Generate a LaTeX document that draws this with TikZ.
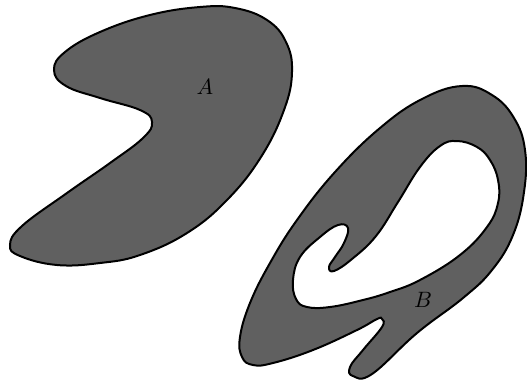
\documentclass[tikz,border=0pt]{standalone}
\begin{document}
\begin{tikzpicture}[x=0.45pt,y=-0.45pt,
  blob/.style={draw=black,fill=blobgray,line width=0.9pt,even odd rule},
  lbl/.style={font=\normalsize}]
\definecolor{blobgray}{RGB}{96,96,96}
\useasboundingbox (0,0) rectangle (527,381);
% Shape A
\path[blob] plot[smooth cycle,tension=0.7] coordinates {
 (54,70) (65,52) (100,32) (150,15) (200,7) (235,8) (267,20) (286,42) (292,72)
 (284,110) (261,157) (227,200) (187,233) (140,255) (100,263) (57,265) (20,256)
 (10,245) (22,226) (67,193) (110,163) (143,138) (152,122) (140,110) (100,98) (66,86)};
\node[lbl] (A) at (205,87) {$A$};
% Shape B with hole
\path[blob] plot[smooth cycle,tension=0.7] coordinates {
 (462,86) (492,95) (514,118) (525,150) (524,192) (513,235) (492,270) (463,298)
 (417,333) (372,374) (353,376) (350,367) (363,350) (382,327) (382,319) (377,319)
 (357,330) (313,350) (273,363) (253,365) (242,357) (240,337) (250,303) (270,263)
 (297,220) (335,172) (380,128) (422,99)}
 plot[smooth cycle,tension=0.7] coordinates {
 (457,141) (477,147) (490,160) (498,180) (498,203) (487,227) (460,255) (420,280)
 (390,292) (363,300) (330,307) (307,307) (296,299) (293,280) (300,257) (320,237)
 (338,225) (348,228) (344,243) (335,257) (329,267) (334,271) (352,259) (376,236)
 (398,202) (420,167) (440,146)};
\node[lbl] (B) at (423,300) {$B$};
\end{tikzpicture}
\end{document}
